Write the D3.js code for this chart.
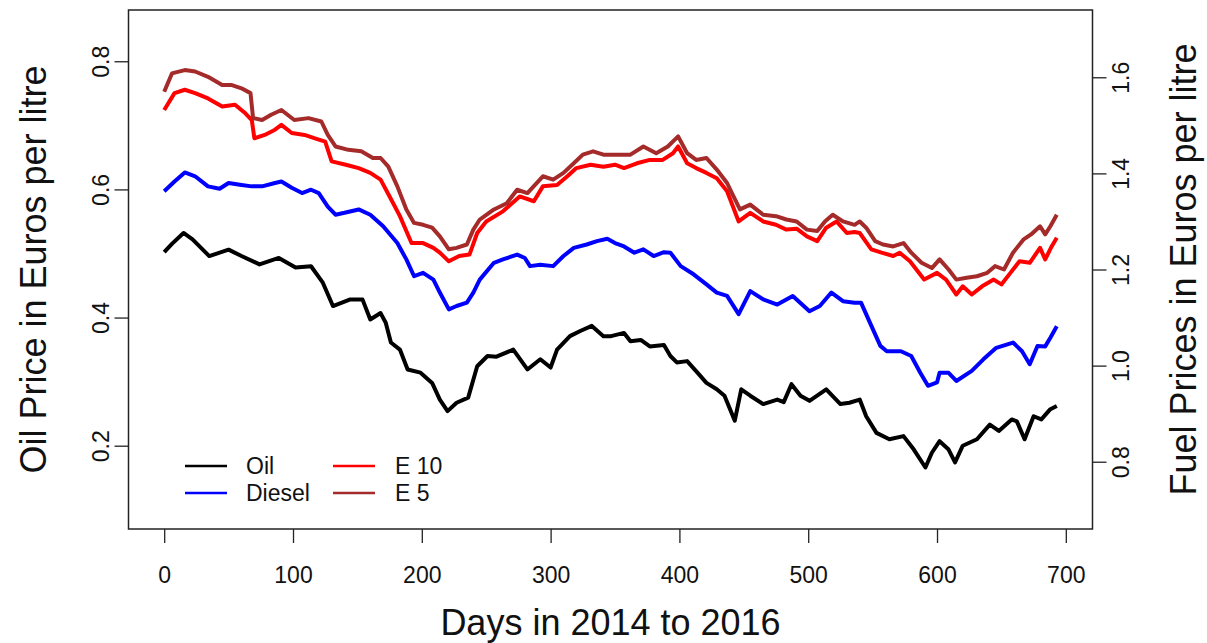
<!DOCTYPE html>
<html>
<head>
<meta charset="utf-8">
<script src="https://cdn.jsdelivr.net/npm/d3@7/dist/d3.min.js"></script>
<style>
  body { margin: 0; background: #fff; }
  text { font-family: "Liberation Sans", Arial, sans-serif; fill: #111; }
</style>
</head>
<body>
<svg id="chart" width="1207" height="643"></svg>
<script>
// days since start of 2014, price (oil in EUR/l on left axis, fuels on right axis)
const oil = [[0,0.502],[6,0.515],[15,0.532],[22,0.522],[35,0.496],[50,0.506],[60,0.496],[74,0.483],[89,0.493],[102,0.478],[114,0.48],[123,0.455],[131,0.418],[144,0.428],[154,0.428],[160,0.397],[168,0.407],[172,0.392],[176,0.361],[183,0.35],[189,0.319],[199,0.314],[208,0.298],[214,0.272],[220,0.254],[227,0.267],[236,0.275],[243,0.324],[251,0.34],[258,0.339],[271,0.35],[282,0.319],[292,0.335],[300,0.322],[305,0.35],[315,0.371],[323,0.379],[332,0.387],[341,0.371],[347,0.371],[357,0.376],[362,0.363],[370,0.365],[377,0.355],[388,0.357],[393,0.34],[398,0.33],[406,0.332],[414,0.314],[421,0.298],[429,0.288],[435,0.278],[443,0.239],[448,0.288],[455,0.278],[465,0.265],[476,0.272],[481,0.268],[487,0.296],[494,0.278],[501,0.27],[514,0.288],[525,0.265],[532,0.267],[540,0.272],[545,0.246],[553,0.22],[563,0.21],[574,0.215],[582,0.194],[591,0.166],[596,0.189],[602,0.207],[609,0.194],[614,0.174],[620,0.2],[631,0.21],[641,0.233],[648,0.223],[658,0.241],[662,0.238],[668,0.21],[675,0.246],[681,0.241],[688,0.257],[693,0.262]];

const diesel = [[0,1.363],[8,1.383],[16,1.402],[24,1.394],[34,1.373],[43,1.368],[50,1.38],[60,1.376],[68,1.373],[76,1.373],[86,1.38],[91,1.383],[99,1.37],[107,1.359],[114,1.366],[120,1.359],[127,1.331],[133,1.314],[140,1.318],[151,1.325],[160,1.314],[170,1.29],[181,1.255],[188,1.221],[194,1.186],[201,1.193],[209,1.179],[214,1.152],[221,1.117],[227,1.124],[235,1.131],[240,1.152],[245,1.179],[256,1.214],[263,1.221],[274,1.231],[280,1.224],[284,1.207],[292,1.21],[302,1.207],[310,1.228],[318,1.245],[328,1.252],[336,1.259],[344,1.264],[350,1.255],[357,1.248],[365,1.235],[372,1.242],[380,1.228],[388,1.236],[393,1.235],[401,1.207],[411,1.19],[421,1.169],[429,1.152],[437,1.145],[446,1.107],[455,1.155],[465,1.138],[476,1.127],[488,1.145],[501,1.113],[509,1.124],[518,1.152],[527,1.134],[536,1.131],[541,1.131],[548,1.089],[556,1.041],[561,1.03],[572,1.03],[580,1.02],[587,0.985],[593,0.958],[600,0.965],[602,0.985],[609,0.985],[615,0.968],[627,0.989],[636,1.013],[646,1.037],[659,1.048],[666,1.03],[672,1.003],[678,1.041],[684,1.04],[688,1.058],[693,1.082]];

const e10 = [[0,1.532],[8,1.567],[16,1.574],[24,1.567],[34,1.556],[45,1.539],[55,1.543],[63,1.525],[68,1.511],[70,1.473],[78,1.48],[86,1.491],[91,1.501],[99,1.484],[109,1.48],[117,1.473],[125,1.466],[130,1.425],[141,1.418],[151,1.411],[160,1.401],[168,1.387],[175,1.352],[183,1.311],[192,1.255],[201,1.255],[209,1.245],[214,1.235],[221,1.217],[229,1.228],[237,1.231],[243,1.276],[250,1.3],[263,1.321],[276,1.352],[287,1.342],[294,1.373],[305,1.376],[313,1.394],[320,1.411],[331,1.418],[341,1.414],[350,1.418],[357,1.411],[367,1.421],[377,1.428],[387,1.428],[395,1.442],[399,1.456],[406,1.421],[413,1.411],[421,1.401],[429,1.39],[437,1.363],[446,1.3],[455,1.318],[465,1.3],[475,1.293],[483,1.283],[491,1.285],[499,1.269],[507,1.259],[514,1.287],[522,1.3],[530,1.276],[536,1.278],[540,1.276],[549,1.242],[557,1.235],[566,1.228],[571,1.235],[579,1.217],[590,1.179],[600,1.193],[607,1.179],[615,1.148],[620,1.165],[627,1.148],[635,1.165],[644,1.179],[650,1.169],[657,1.193],[664,1.217],[672,1.214],[680,1.245],[684,1.221],[689,1.248],[693,1.266]];

const e5 = [[0,1.57],[6,1.608],[16,1.615],[24,1.612],[34,1.601],[45,1.584],[52,1.584],[60,1.577],[67,1.567],[69,1.515],[76,1.511],[83,1.522],[91,1.532],[101,1.511],[112,1.515],[122,1.508],[127,1.48],[133,1.456],[143,1.449],[153,1.446],[162,1.432],[168,1.432],[174,1.414],[181,1.373],[188,1.325],[194,1.297],[201,1.293],[208,1.287],[214,1.269],[221,1.242],[227,1.245],[235,1.252],[240,1.283],[245,1.304],[256,1.325],[266,1.338],[274,1.366],[282,1.359],[294,1.394],[302,1.387],[310,1.401],[318,1.421],[325,1.439],[333,1.446],[341,1.439],[351,1.439],[362,1.439],[372,1.456],[382,1.442],[391,1.456],[399,1.477],[406,1.442],[413,1.428],[421,1.432],[429,1.408],[437,1.38],[442,1.352],[447,1.325],[455,1.335],[465,1.314],[475,1.311],[483,1.304],[491,1.3],[499,1.283],[507,1.28],[513,1.3],[519,1.314],[527,1.3],[536,1.293],[540,1.3],[545,1.287],[552,1.259],[558,1.252],[566,1.248],[574,1.255],[580,1.235],[588,1.214],[596,1.203],[602,1.221],[609,1.2],[615,1.179],[623,1.183],[631,1.186],[639,1.193],[645,1.207],[652,1.2],[659,1.235],[667,1.262],[673,1.273],[680,1.29],[684,1.273],[688,1.29],[693,1.314]];

const xTicks = [0, 100, 200, 300, 400, 500, 600, 700];
const oilTicks = [0.2, 0.4, 0.6, 0.8];
const fuelTicks = [0.8, 1.0, 1.2, 1.4, 1.6];

const legendItems = [
  { name: "Oil", color: "black", col: 0, row: 0 },
  { name: "Diesel", color: "blue", col: 0, row: 1 },
  { name: "E 10", color: "red", col: 1, row: 0 },
  { name: "E 5", color: "brown", col: 1, row: 1 }
];

// plot box, like R's default 4% axis padding
const box = { left: 128.5, right: 1092.5, top: 10, bottom: 529 };
const pad = (lo, hi) => { const p = (hi - lo) * 0.04; return [lo - p, hi + p]; };

const x = d3.scaleLinear().domain(pad(0, 693)).range([box.left, box.right]);
const yOil = d3.scaleLinear().domain(pad(0.1, 0.85)).range([box.bottom, box.top]);
const yFuel = d3.scaleLinear().domain(pad(0.7, 1.7)).range([box.bottom, box.top]);

const svg = d3.select("#chart");
svg.append("rect").attr("width", 1207).attr("height", 643).attr("fill", "#fff");

svg.append("clipPath").attr("id", "clip")
  .append("rect")
  .attr("x", box.left).attr("y", box.top)
  .attr("width", box.right - box.left).attr("height", box.bottom - box.top);

// series lines
const plot = svg.append("g").attr("clip-path", "url(#clip)");
const series = [
  { data: oil, y: yOil, color: "black" },
  { data: diesel, y: yFuel, color: "blue" },
  { data: e10, y: yFuel, color: "red" },
  { data: e5, y: yFuel, color: "brown" }
];
series.forEach((s) => {
  plot.append("path")
    .datum(s.data)
    .attr("fill", "none")
    .attr("stroke", s.color)
    .attr("stroke-width", 4)
    .attr("stroke-linejoin", "round")
    .attr("d", d3.line().x((d) => x(d[0])).y((d) => s.y(d[1])));
});

// axes
const tickLen = 14;
const fontTick = 23;

const xAxis = svg.append("g")
  .attr("transform", "translate(0," + box.bottom + ")")
  .call(d3.axisBottom(x).tickValues(xTicks).tickFormat(d3.format("d")).tickSize(tickLen).tickPadding(24));
xAxis.select(".domain").remove();
xAxis.selectAll("text").attr("font-size", fontTick).attr("fill", "#111")
  .style("font-family", "'Liberation Sans', Arial, sans-serif");

function rotatedAxis(axisGen, xPos, side) {
  const g = svg.append("g").attr("transform", "translate(" + xPos + ",0)").call(axisGen);
  g.select(".domain").remove();
  g.selectAll("text")
    .attr("x", 0)
    .attr("y", side * 28)
    .attr("dy", "0.35em")
    .attr("text-anchor", "middle")
    .attr("transform", "rotate(-90)")
    .attr("font-size", fontTick)
    .attr("fill", "#111")
    .style("font-family", "'Liberation Sans', Arial, sans-serif");
  return g;
}
rotatedAxis(d3.axisLeft(yOil).tickValues(oilTicks).tickFormat(d3.format(".1f")).tickSize(tickLen), box.left, -1);
rotatedAxis(d3.axisRight(yFuel).tickValues(fuelTicks).tickFormat(d3.format(".1f")).tickSize(tickLen), box.right, 1);

svg.selectAll(".tick line").attr("stroke", "#222").attr("stroke-width", 1.3);

// box
svg.append("rect")
  .attr("x", box.left).attr("y", box.top)
  .attr("width", box.right - box.left).attr("height", box.bottom - box.top)
  .attr("fill", "none").attr("stroke", "#222").attr("stroke-width", 1.5);

// axis titles
const fontTitle = 36;
svg.append("text")
  .attr("x", (box.left + box.right) / 2).attr("y", 622)
  .attr("dy", "0.35em")
  .attr("text-anchor", "middle")
  .attr("font-size", fontTitle)
  .text("Days in 2014 to 2016");

svg.append("text")
  .attr("transform", "translate(33," + (box.top + box.bottom) / 2 + ") rotate(-90)")
  .attr("dy", "0.35em")
  .attr("text-anchor", "middle")
  .attr("font-size", fontTitle)
  .text("Oil Price in Euros per litre");

svg.append("text")
  .attr("transform", "translate(1183," + (box.top + box.bottom) / 2 + ") rotate(-90)")
  .attr("dy", "0.35em")
  .attr("text-anchor", "middle")
  .attr("font-size", fontTitle)
  .text("Fuel Prices in Euros per litre");

// legend (no frame)
const legend = svg.append("g").attr("transform", "translate(185,466)");
const entry = legend.selectAll("g")
  .data(legendItems)
  .join("g")
  .attr("transform", (d) => "translate(" + d.col * 148 + "," + d.row * 27 + ")");
entry.append("line")
  .attr("x1", 0).attr("x2", 42).attr("y1", 0).attr("y2", 0)
  .attr("stroke", (d) => d.color).attr("stroke-width", 2.5);
entry.append("text")
  .attr("x", (d) => (d.col ? 62 : 61)).attr("y", 0).attr("dy", "0.35em")
  .attr("font-size", fontTick)
  .text((d) => d.name);
</script>
</body>
</html>
